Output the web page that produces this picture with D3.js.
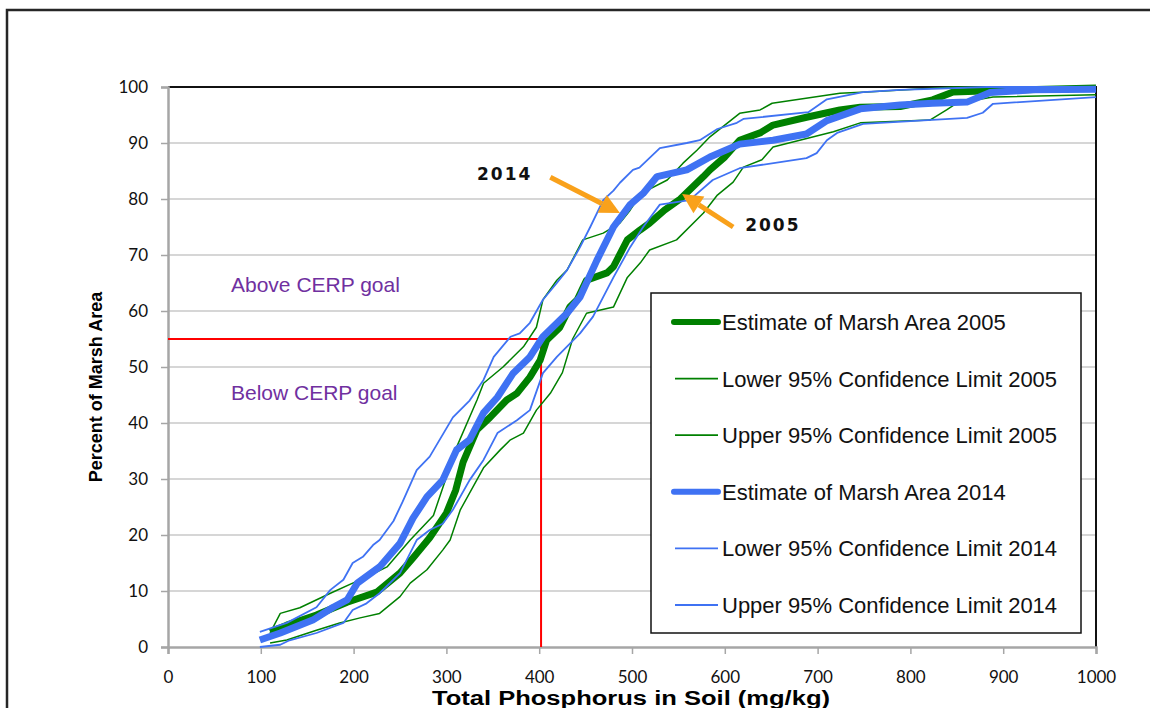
<!DOCTYPE html>
<html>
<head>
<meta charset="utf-8">
<script src="https://cdn.jsdelivr.net/npm/d3@7"></script>
<style>
  body { margin: 0; background: #fff; }
  svg { display: block; font-family: "Liberation Sans", Arial, sans-serif; }
</style>
</head>
<body>
<div id="chart"></div>
<script>
// [total phosphorus mg/kg, percent of marsh area]
const est2005 = [[110,2.7],[128,3.9],[160,5.7],[193,8],[225,9.8],[250,13.2],[264,15.9],[282,19.5],[300,23.9],[310,28],[318,33],[333,38.8],[347,41],[365,44.1],[376,45.3],[390,48.2],[401,51.2],[408,54.8],[422,57],[433,60.7],[441,62],[451,65.5],[473,66.8],[480,67.9],[495,72.7],[509,74.5],[519,75.7],[535,78],[552,80],[577,84],[584,85.2],[600,87.5],[616,90.5],[638,91.8],[652,93.2],[688,94.6],[724,95.9],[746,96.4],[789,96.5],[824,97.7],[846,99.1],[878,99.3],[1000,99.8]];
const low2005 = [[110,0.7],[128,1.25],[160,3],[185,4.3],[207,5.2],[228,6],[250,9],[261,11.4],[279,13.8],[296,17.3],[304,19.1],[315,24.5],[340,32],[358,35.2],[369,37],[383,38.2],[397,42.3],[412,45.3],[425,49],[436,55],[451,59.6],[480,60.7],[495,66],[509,68.6],[519,70.9],[548,72.7],[577,77.5],[592,80.7],[609,83],[620,85.7],[640,87],[652,89.3],[717,92],[746,93.6],[821,94.1],[839,95.9],[850,97.1],[889,98.2],[1000,98.6]];
const up2005 = [[110,2.5],[121,6],[142,7],[175,9.6],[199,11.4],[214,12.5],[236,14.3],[261,19.1],[286,23.5],[311,35.7],[333,44.1],[340,47.1],[361,50],[383,53.6],[397,57.1],[404,62],[419,65.5],[430,67.3],[447,72.7],[469,73.9],[487,75.7],[498,78],[510,81],[538,83.4],[555,86.4],[570,88.7],[584,91.1],[616,95.3],[638,95.9],[651,97.1],[724,98.9],[753,99.1],[846,100],[1000,100]];
const est2014 = [[99,1.25],[121,2.5],[156,4.8],[178,7.1],[193,8.4],[204,11.4],[228,14.3],[250,18.5],[264,23],[279,26.8],[296,29.8],[311,35.2],[325,37],[340,41.8],[355,44.6],[372,48.9],[390,51.8],[404,55.4],[430,59.6],[444,62.5],[462,69],[480,75],[498,79],[512,81],[527,84],[559,85.2],[584,87.5],[616,89.8],[652,90.5],[688,91.6],[710,94],[746,96.1],[789,96.8],[824,97.1],[861,97.3],[886,99],[932,99.5],[1000,99.6]];
const low2014 = [[99,0],[121,0.4],[131,1.2],[160,2.5],[189,4.3],[199,6.6],[214,7.8],[228,9.6],[250,13.2],[268,19.1],[282,20.9],[296,22],[307,24.5],[325,29.8],[340,33.4],[355,38.2],[376,40.5],[390,42.3],[404,48.9],[419,51.8],[444,56],[458,59],[480,66],[498,71.4],[512,75],[530,79],[562,79.8],[587,83.4],[616,85.5],[688,87.3],[699,88.2],[710,90.5],[721,91.8],[749,93.4],[861,94.5],[878,95.4],[889,97],[1000,98.2]];
const up2014 = [[99,2.7],[128,4.3],[160,7.1],[175,10.2],[189,12],[199,15],[210,16.1],[221,18.2],[228,19.1],[243,22.5],[253,26],[268,31.6],[282,34],[307,41],[325,44],[340,47.7],[351,51.8],[369,55.4],[379,56],[390,57.9],[404,62],[419,65],[430,67.3],[444,71.4],[455,75],[469,79.8],[480,81.5],[487,82.9],[501,85.2],[508,85.6],[530,89.1],[559,90],[573,90.5],[592,92.5],[613,93.6],[620,94.3],[690,95.5],[710,97.8],[749,99.1],[789,99.5],[882,100],[1000,100]];

const seriesNames = [
  "Estimate of Marsh Area 2005",
  "Lower 95% Confidence Limit 2005",
  "Upper 95% Confidence Limit 2005",
  "Estimate of Marsh Area 2014",
  "Lower 95% Confidence Limit 2014",
  "Upper 95% Confidence Limit 2014"
];
const xTicks = [0, 100, 200, 300, 400, 500, 600, 700, 800, 900, 1000];
const yTicks = [0, 10, 20, 30, 40, 50, 60, 70, 80, 90, 100];
const goalX = 402;
const goalY = 55;

const width = 1150;
const height = 708;
const green = "#008000";
const blue = "#3f72f3";

const series = [
  { data: est2005, color: green, w: 7 },
  { data: low2005, color: green, w: 1.5 },
  { data: up2005, color: green, w: 1.5 },
  { data: est2014, color: blue, w: 7 },
  { data: low2014, color: blue, w: 1.8 },
  { data: up2014, color: blue, w: 1.8 }
];

const x = d3.scaleLinear().domain([0, 1000]).range([168, 1096]);
const y = d3.scaleLinear().domain([0, 100]).range([647, 87]);

const svg = d3.select("#chart").append("svg")
  .attr("width", width)
  .attr("height", height);

// outer frame
svg.append("rect")
  .attr("x", 7).attr("y", 10)
  .attr("width", 1160).attr("height", 720)
  .attr("fill", "none")
  .attr("stroke", "#262626")
  .attr("stroke-width", 2.5);

// gridlines
svg.append("g")
  .selectAll("line")
  .data(yTicks.slice(1, -1))
  .enter()
  .append("line")
  .attr("x1", x(0)).attr("x2", x(1000))
  .attr("y1", d => y(d)).attr("y2", d => y(d))
  .attr("stroke", "#c8c8c8")
  .attr("stroke-width", 1.5);

// top and right border of plot area
svg.append("path")
  .attr("d", `M${x(0)},${y(100)}H${x(1000)}V${y(0)}`)
  .attr("fill", "none")
  .attr("stroke", "#111")
  .attr("stroke-width", 2);

// axes
const yAxis = svg.append("g")
  .attr("transform", `translate(${x(0)},0)`)
  .call(d3.axisLeft(y).tickValues(yTicks).tickSize(7).tickPadding(13));
const xAxis = svg.append("g")
  .attr("transform", `translate(0,${y(0)})`)
  .call(d3.axisBottom(x).tickValues(xTicks).tickFormat(d3.format("d")).tickSize(7).tickPadding(17));

[yAxis, xAxis].forEach(ax => {
  ax.select(".domain").attr("stroke", "#a6a6a6").attr("stroke-width", 2.5);
  ax.selectAll(".tick line").attr("stroke", "#a6a6a6").attr("stroke-width", 1.5);
  ax.selectAll(".tick text")
    .attr("fill", "#111")
    .style("font-family", "Lato, 'DejaVu Sans', sans-serif")
    .style("font-size", "17px");
});
yAxis.selectAll(".tick line").attr("x1", -7).attr("x2", 0);

// axis titles
svg.append("text")
  .attr("transform", `translate(102,${(y(0) + y(100)) / 2 + 20}) rotate(-90)`)
  .attr("text-anchor", "middle")
  .style("font-size", "18px")
  .style("font-weight", "bold")
  .text("Percent of Marsh Area");

svg.append("text")
  .attr("x", 432)
  .attr("y", 705)
  .attr("textLength", 398)
  .attr("lengthAdjust", "spacingAndGlyphs")
  .style("font-size", "20px")
  .style("font-weight", "bold")
  .text("Total Phosphorus in Soil (mg/kg)");

// CERP goal lines
svg.append("path")
  .attr("d", `M${x(0)},${y(goalY)}H${x(goalX)}V${y(0)}`)
  .attr("fill", "none")
  .attr("stroke", "#ff0000")
  .attr("stroke-width", 2);

svg.append("text")
  .attr("x", 231).attr("y", 292)
  .attr("fill", "#7030a0")
  .style("font-size", "21px")
  .text("Above CERP goal");
svg.append("text")
  .attr("x", 231).attr("y", 400)
  .attr("fill", "#7030a0")
  .style("font-size", "21px")
  .text("Below CERP goal");

// data lines
const line = d3.line()
  .x(d => x(d[0]))
  .y(d => y(d[1]));

svg.append("g")
  .selectAll("path")
  .data(series)
  .enter()
  .append("path")
  .attr("d", d => line(d.data))
  .attr("fill", "none")
  .attr("stroke", d => d.color)
  .attr("stroke-width", d => d.w)
  .attr("stroke-linejoin", "round");

// arrows
const orange = "#f9a11b";
const arrows = [
  { from: [412, 83.9], to: [487, 77.5] },
  { from: [609, 75], to: [554, 80.9] }
];
arrows.forEach(a => {
  const x1 = x(a.from[0]), y1 = y(a.from[1]);
  const x2 = x(a.to[0]), y2 = y(a.to[1]);
  const ang = Math.atan2(y2 - y1, x2 - x1);
  const headL = 20, headW = 10;
  const bx = x2 - headL * Math.cos(ang), by = y2 - headL * Math.sin(ang);
  svg.append("line")
    .attr("x1", x1).attr("y1", y1)
    .attr("x2", bx).attr("y2", by)
    .attr("stroke", orange)
    .attr("stroke-width", 5);
  const px = -Math.sin(ang) * headW, py = Math.cos(ang) * headW;
  svg.append("path")
    .attr("d", `M${x2},${y2}L${bx + px},${by + py}L${bx - px},${by - py}Z`)
    .attr("fill", orange);
});

const labels = [
  { text: "2014", at: [333, 84.5] },
  { text: "2005", at: [622, 75.4] }
];
svg.selectAll(".year")
  .data(labels)
  .enter()
  .append("text")
  .attr("class", "year")
  .attr("x", d => x(d.at[0]))
  .attr("y", d => y(d.at[1]) + 6)
  .style("font-family", "'DejaVu Sans', sans-serif")
  .style("font-size", "17px")
  .style("font-weight", "bold")
  .style("letter-spacing", "2px")
  .attr("fill", "#111")
  .text(d => d.text);

// legend
const legend = svg.append("g").attr("transform", "translate(651,293)");
legend.append("rect")
  .attr("width", 430).attr("height", 340)
  .attr("fill", "#fff")
  .attr("stroke", "#111")
  .attr("stroke-width", 1.5);

const item = legend.selectAll(".item")
  .data(series)
  .enter()
  .append("g")
  .attr("class", "item")
  .attr("transform", (d, i) => `translate(0,${29 + i * 56.6})`);

item.append("line")
  .attr("x1", d => d.w > 3 ? 23 : 24)
  .attr("x2", 67)
  .attr("stroke", d => d.color)
  .attr("stroke-width", d => d.w > 3 ? 6 : 1.8)
  .attr("stroke-linecap", d => d.w > 3 ? "round" : "butt");

item.append("text")
  .attr("x", 71)
  .attr("y", 8)
  .style("font-size", "22px")
  .attr("fill", "#111")
  .text((d, i) => seriesNames[i]);
</script>
</body>
</html>
